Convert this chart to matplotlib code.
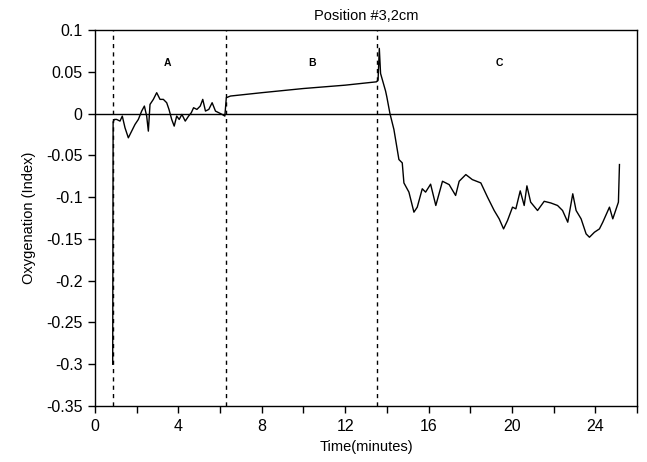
import matplotlib
matplotlib.use("Agg")
import matplotlib.pyplot as plt
from matplotlib.ticker import MultipleLocator

plt.rcParams['font.family'] = ['Liberation Sans', 'DejaVu Sans']

# Time (minutes) and oxygenation index
time_min = [0.85, 0.87, 0.93, 1.04, 1.2, 1.31, 1.44, 1.6, 1.76, 1.92, 2.08, 2.24, 2.37, 2.48,
            2.56, 2.64, 2.8, 2.96, 3.12, 3.28, 3.44, 3.55, 3.68, 3.8, 3.92, 4.04, 4.17, 4.33,
            4.49, 4.62, 4.73, 4.89, 5.05, 5.17, 5.3, 5.46, 5.62, 5.78, 5.94, 6.1, 6.23,
            6.3, 6.5, 8.0, 10.0, 12.0, 13.5,
            13.58, 13.64, 13.7, 13.94, 14.0, 14.15, 14.34, 14.58, 14.74, 14.82, 15.06, 15.3,
            15.46, 15.7, 15.86, 16.1, 16.35, 16.67, 16.99, 17.3, 17.47, 17.79, 18.1, 18.51,
            18.83, 19.15, 19.39, 19.6, 19.79, 20.03, 20.19, 20.4, 20.59, 20.72, 20.9, 21.23,
            21.55, 21.87, 22.19, 22.43, 22.68, 22.92, 23.08, 23.32, 23.56, 23.72, 23.96,
            24.2, 24.36, 24.68, 24.84, 25.11, 25.16]
oxygenation = [-0.30, -0.010, -0.007, -0.007, -0.009, -0.003, -0.017, -0.029, -0.021, -0.013,
               -0.007, 0.003, 0.009, -0.003, -0.021, 0.011, 0.017, 0.025, 0.017, 0.017, 0.013,
               0.005, -0.007, -0.015, -0.003, -0.007, -0.001, -0.009, -0.003, 0.001, 0.007,
               0.005, 0.009, 0.017, 0.003, 0.005, 0.013, 0.003, 0.001, -0.001, -0.003,
               0.019, 0.021, 0.025, 0.030, 0.034, 0.038,
               0.040, 0.078, 0.048, 0.027, 0.020, 0.0, -0.019, -0.055, -0.059, -0.083, -0.094,
               -0.118, -0.112, -0.090, -0.094, -0.0845, -0.110, -0.081, -0.085, -0.098, -0.081,
               -0.073, -0.079, -0.083, -0.100, -0.116, -0.126, -0.138, -0.128, -0.112, -0.114,
               -0.0925, -0.110, -0.0865, -0.106, -0.116, -0.105, -0.107, -0.110, -0.116, -0.130,
               -0.096, -0.116, -0.126, -0.144, -0.148, -0.142, -0.138, -0.130, -0.112, -0.126,
               -0.106, -0.061]

phase_bounds = [0.85, 6.3, 13.55]
phase_labels = ['A', 'B', 'C']
phase_label_x = [3.5, 10.4, 19.4]

y_ticks = [0.1, 0.05, 0, -0.05, -0.1, -0.15, -0.2, -0.25, -0.3, -0.35]
y_tick_labels = ['0.1', '0.05', '0', '-0.05', '-0.1', '-0.15', '-0.2', '-0.25', '-0.3', '-0.35']

fig = plt.figure(figsize=(6.47, 4.62), dpi=100)
ax = fig.add_axes([0.1468, 0.1212, 0.8377, 0.8138])

ax.plot(time_min, oxygenation, color='black', lw=1.0)
ax.axhline(0, color='black', lw=1.0)
for xb in phase_bounds:
    ax.axvline(xb, color='black', lw=1.0, ls=(0, (3, 3)))
for lab, lx in zip(phase_labels, phase_label_x):
    ax.text(lx, 0.061, lab, ha='center', va='center', fontsize=7.5, fontweight='bold')

ax.set_xlim(0, 26)
ax.set_ylim(-0.35, 0.1)
ax.xaxis.set_major_locator(MultipleLocator(4))
ax.xaxis.set_minor_locator(MultipleLocator(2))
ax.set_yticks(y_ticks)
ax.set_yticklabels(y_tick_labels)
ax.tick_params(axis='both', which='major', direction='out', length=5, width=1,
               labelsize=11.5, pad=4)
ax.tick_params(axis='x', which='minor', direction='out', length=5, width=1)
for s in ax.spines.values():
    s.set_linewidth(1.0)

ax.set_title('Position #3,2cm', fontsize=10.5, pad=7)
ax.set_xlabel('Time(minutes)', fontsize=10.5, labelpad=5)
ax.set_ylabel('Oxygenation (Index)', fontsize=10.5, labelpad=7)

fig.savefig('out.png', dpi=100)
